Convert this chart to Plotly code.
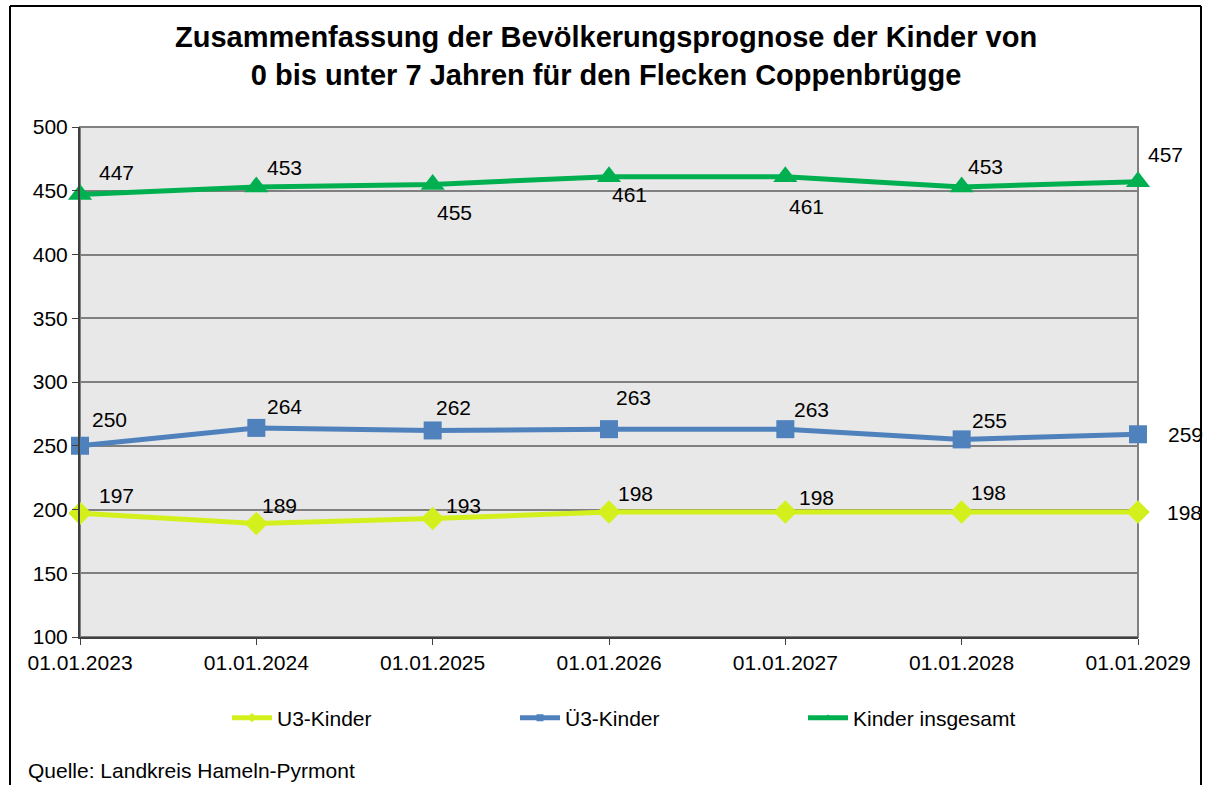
import plotly.graph_objects as go

categories = ["01.01.2023", "01.01.2024", "01.01.2025", "01.01.2026",
              "01.01.2027", "01.01.2028", "01.01.2029"]
u3 = [197, 189, 193, 198, 198, 198, 198]
ue3 = [250, 264, 262, 263, 263, 255, 259]
total = [447, 453, 455, 461, 461, 453, 457]
y_ticks = [100, 150, 200, 250, 300, 350, 400, 450, 500]

W, H = 1206, 785
ML, MR, MT, MB = 80, 68, 127, 148
PW, PH = W - ML - MR, H - MT - MB
FONT = "Liberation Sans, Arial, sans-serif"

# label offsets (pixels): (xshift, yshift)
off_u3 = [(17, 18), (4, 18), (11, 13), (7, 19), (12, 15), (7, 20), (27, 0)]
off_ue3 = [(10, 26), (9, 21), (1, 23), (5, 32), (7, 20), (8, 19), (28, 0)]
off_tot = [(17, 22), (9, 19), (2, -28), (1, -18), (2, -30), (4, 20), (8, 27)]

c_u3 = "#D4F01C"
c_ue3 = "#4F81BD"
c_tot = "#00B050"

xs = list(range(len(categories)))

series = [
    ("U3-Kinder", u3, c_u3, "diamond", 18),
    ("Ü3-Kinder", ue3, c_ue3, "square", 18),
    ("Kinder insgesamt", total, c_tot, "triangle-up", 21),
]

fig = go.Figure()
for name, vals, col, sym, sz in series:
    fig.add_trace(go.Scatter(x=xs, y=vals, name=name, mode="lines+markers",
                             line=dict(color=col, width=5), showlegend=False,
                             cliponaxis=False,
                             marker=dict(symbol=sym, size=sz, color=col)))
for name, vals, col, sym, sz in series:
    # legend-only entry with small marker like the original
    fig.add_trace(go.Scatter(x=[None], y=[None], name=name, mode="lines+markers",
                             line=dict(color=col, width=5),
                             marker=dict(symbol=sym, size=7, color=col)))

annotations = []
for vals, offs in ((u3, off_u3), (ue3, off_ue3), (total, off_tot)):
    for i, v in enumerate(vals):
        dx, dy = offs[i]
        annotations.append(dict(x=xs[i], y=v, xref="x", yref="y", text=str(v),
                                showarrow=False, xanchor="left", yanchor="middle",
                                xshift=dx, yshift=dy,
                                font=dict(family=FONT, size=21, color="#000000")))


def px_x(p):
    return (p - ML) / PW


def px_y(p):
    return (H - MB - p) / PH


annotations.append(dict(x=px_x(606), y=px_y(56), xref="paper", yref="paper", showarrow=False,
                        text="<b>Zusammenfassung der Bevölkerungsprognose der Kinder von<br>0 bis unter 7 Jahren für den Flecken Coppenbrügge</b>",
                        font=dict(family=FONT, size=29, color="#000000"),
                        xanchor="center", yanchor="middle"))
annotations.append(dict(x=px_x(26), y=px_y(770), xref="paper", yref="paper",
                        showarrow=False, text="Quelle: Landkreis Hameln-Pyrmont",
                        xanchor="left", yanchor="middle",
                        font=dict(family=FONT, size=21, color="#000000")))

shapes = [
    dict(type="line", xref="paper", yref="paper", x0=px_x(10), x1=px_x(10), y0=px_y(6), y1=px_y(800),
         line=dict(color="#000000", width=2)),
    dict(type="line", xref="paper", yref="paper", x0=px_x(10), x1=px_x(1201), y0=px_y(6), y1=px_y(6),
         line=dict(color="#000000", width=2)),
    dict(type="line", xref="paper", yref="paper", x0=px_x(1201), x1=px_x(1201), y0=px_y(6), y1=px_y(800),
         line=dict(color="#000000", width=2)),
    dict(type="rect", xref="paper", yref="paper", x0=0, x1=1, y0=0, y1=1,
         line=dict(color="#808080", width=2), layer="below"),
]

fig.update_layout(
    width=W, height=H,
    margin=dict(l=ML, r=MR, t=MT, b=MB),
    paper_bgcolor="#FFFFFF",
    plot_bgcolor="#E8E8E8",
    font=dict(family=FONT, size=21, color="#000000"),
    showlegend=True,
    legend=dict(orientation="h", x=px_x(227), xanchor="left", y=px_y(718), yanchor="middle",
                font=dict(family=FONT, size=21), itemwidth=40, tracegroupgap=0,
                entrywidthmode="pixels", entrywidth=233, bgcolor="rgba(0,0,0,0)"),
    annotations=annotations,
    shapes=shapes,
)
fig.update_xaxes(range=[0, len(categories) - 1], tickvals=xs, ticktext=categories,
                 showgrid=False, zeroline=False, ticks="outside", ticklen=6,
                 tickcolor="#404040", showline=True, linecolor="#404040", linewidth=2,
                 tickfont=dict(family=FONT, size=21))
fig.update_yaxes(range=[100, 500], tickvals=y_ticks, showgrid=True, gridcolor="#808080",
                 gridwidth=1.5, zeroline=False, ticks="outside", ticklen=6, tickcolor="#404040",
                 showline=True, linecolor="#404040", linewidth=2, tickfont=dict(family=FONT, size=21))

fig.write_html("out.html", config={"displayModeBar": False},
               post_script="document.body.style.margin='0';document.body.style.overflow='hidden';")
